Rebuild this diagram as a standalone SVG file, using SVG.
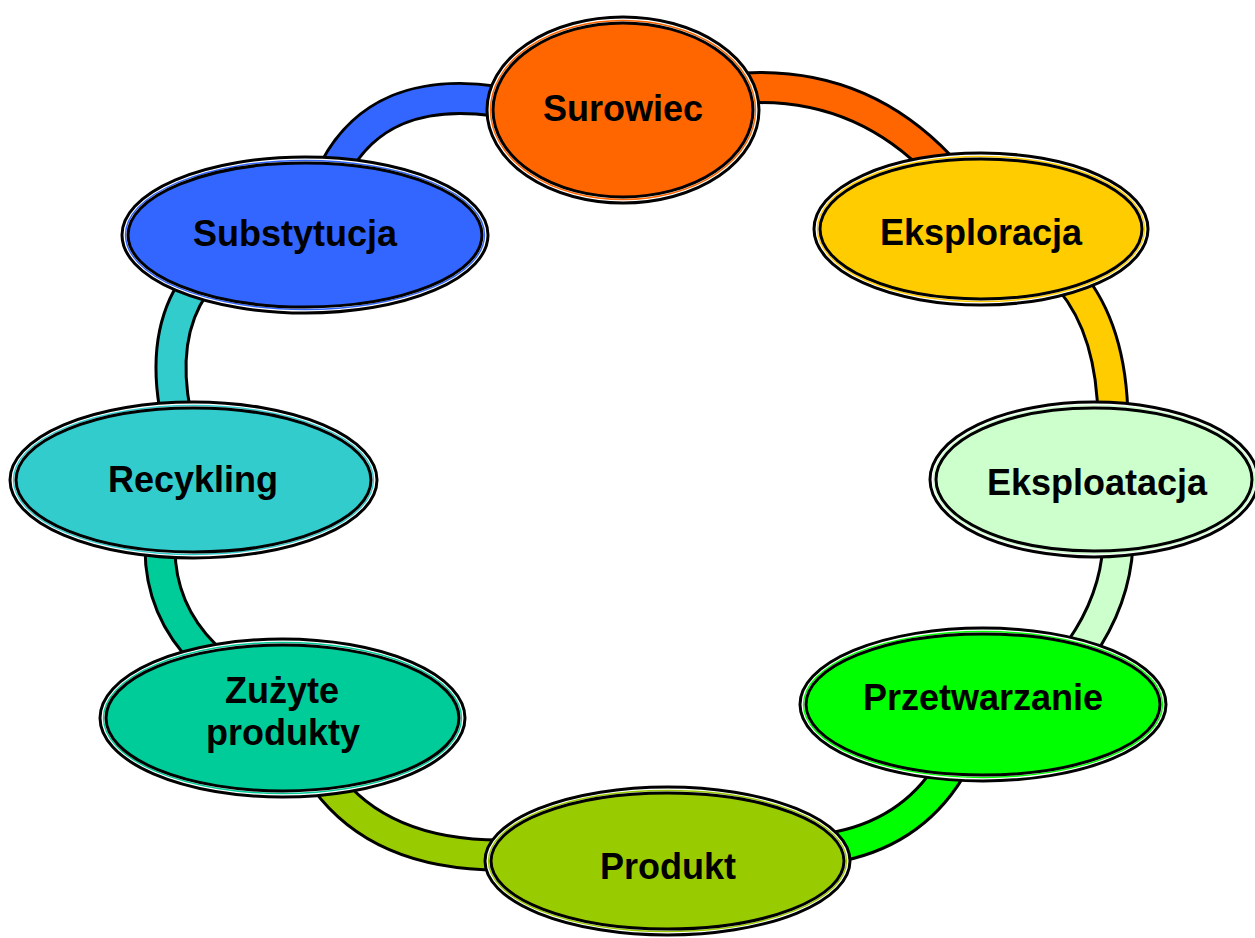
<svg xmlns="http://www.w3.org/2000/svg" xmlns:xlink="http://www.w3.org/1999/xlink" width="1255" height="938" viewBox="0 0 1255 938">
<style>
.bo{fill:none;stroke:#000;stroke-width:33}
.bi{fill:none;stroke-width:27}
.out{fill:#fff;stroke:#000;stroke-width:3}
.ring{fill:none;stroke-width:1.5}
.in{stroke:#000;stroke-width:3}
text{font-family:"Liberation Sans",Arial,sans-serif;font-weight:bold;font-size:36px;fill:#000;text-anchor:middle}
</style>
<defs>
<path id="c1" d="M745 88 Q860 82 940 166"/>
<path id="c2" d="M1070 280 Q1112 330 1113 420"/>
<path id="c3" d="M1118 545 Q1115 600 1080 650"/>
<path id="c4" d="M950 770 Q910 835 830 848"/>
<path id="c5" d="M325 780 Q380 855 500 855"/>
<path id="c6" d="M160 548 Q160 610 205 655"/>
<path id="c7" d="M195 285 Q160 335 176 415"/>
<path id="c8" d="M335 168 Q380 85 495 101"/>
</defs>
<g id="connectors">
<use xlink:href="#c1" class="bo"/><use xlink:href="#c1" class="bi" stroke="#FF6600"/>
<use xlink:href="#c2" class="bo"/><use xlink:href="#c2" class="bi" stroke="#FFCC00"/>
<use xlink:href="#c3" class="bo"/><use xlink:href="#c3" class="bi" stroke="#CCFFCC"/>
<use xlink:href="#c4" class="bo"/><use xlink:href="#c4" class="bi" stroke="#00FF00"/>
<use xlink:href="#c5" class="bo"/><use xlink:href="#c5" class="bi" stroke="#99CC00"/>
<use xlink:href="#c6" class="bo"/><use xlink:href="#c6" class="bi" stroke="#00CC99"/>
<use xlink:href="#c7" class="bo"/><use xlink:href="#c7" class="bi" stroke="#33CCCC"/>
<use xlink:href="#c8" class="bo"/><use xlink:href="#c8" class="bi" stroke="#3366FF"/>
</g>
<g id="surowiec">
<ellipse class="out" cx="623" cy="110" rx="136" ry="93"/>
<ellipse class="ring" stroke="#FF6600" cx="623" cy="110" rx="132.5" ry="89.5"/>
<ellipse class="in" fill="#FF6600" cx="623" cy="110" rx="130" ry="87"/>
<text x="623" y="121">Surowiec</text>
</g>
<g id="eksploracja">
<ellipse class="out" cx="981" cy="229" rx="167" ry="76"/>
<ellipse class="ring" stroke="#FFCC00" cx="981" cy="229" rx="163.5" ry="72.5"/>
<ellipse class="in" fill="#FFCC00" cx="981" cy="229" rx="161" ry="70"/>
<text x="981" y="245">Eksploracja</text>
</g>
<g id="eksploatacja">
<ellipse class="out" cx="1094" cy="479.5" rx="164" ry="77.5"/>
<ellipse class="ring" stroke="#CCFFCC" cx="1094" cy="479.5" rx="160.5" ry="74"/>
<ellipse class="in" fill="#CCFFCC" cx="1094" cy="479.5" rx="158" ry="71.5"/>
<text x="1097" y="495">Eksploatacja</text>
</g>
<g id="przetwarzanie">
<ellipse class="out" cx="983" cy="704.5" rx="183" ry="76.5"/>
<ellipse class="ring" stroke="#00FF00" cx="983" cy="704.5" rx="179.5" ry="73"/>
<ellipse class="in" fill="#00FF00" cx="983" cy="704.5" rx="177" ry="70.5"/>
<text x="983" y="710">Przetwarzanie</text>
</g>
<g id="produkt">
<ellipse class="out" cx="667.5" cy="861" rx="182.5" ry="74"/>
<ellipse class="ring" stroke="#99CC00" cx="667.5" cy="861" rx="179" ry="70.5"/>
<ellipse class="in" fill="#99CC00" cx="667.5" cy="861" rx="176.5" ry="68"/>
<text x="668" y="879">Produkt</text>
</g>
<g id="zuzyte-produkty">
<ellipse class="out" cx="282.5" cy="718" rx="182.5" ry="79"/>
<ellipse class="ring" stroke="#00CC99" cx="282.5" cy="718" rx="179" ry="75.5"/>
<ellipse class="in" fill="#00CC99" cx="282.5" cy="718" rx="176.5" ry="73"/>
<text x="282" y="703">Zużyte</text>
<text x="283" y="745">produkty</text>
</g>
<g id="recykling">
<ellipse class="out" cx="193.5" cy="480" rx="183.5" ry="78"/>
<ellipse class="ring" stroke="#33CCCC" cx="193.5" cy="480" rx="180" ry="74.5"/>
<ellipse class="in" fill="#33CCCC" cx="193.5" cy="480" rx="177.5" ry="72"/>
<text x="193" y="492">Recykling</text>
</g>
<g id="substytucja">
<ellipse class="out" cx="305" cy="235" rx="183" ry="78"/>
<ellipse class="ring" stroke="#3366FF" cx="305" cy="235" rx="179.5" ry="74.5"/>
<ellipse class="in" fill="#3366FF" cx="305" cy="235" rx="177" ry="72"/>
<text x="295" y="246">Substytucja</text>
</g>
</svg>
